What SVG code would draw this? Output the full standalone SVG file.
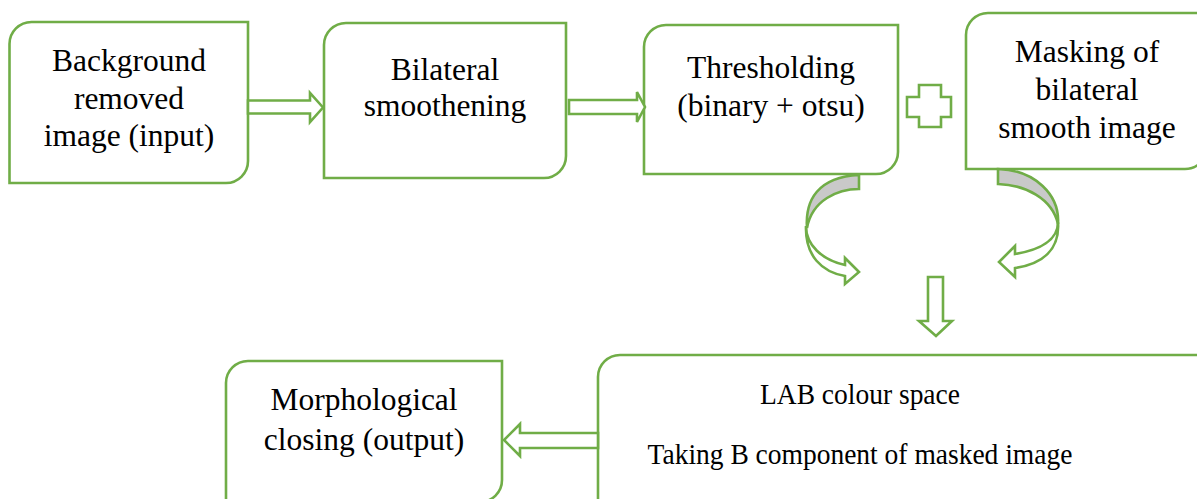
<svg xmlns="http://www.w3.org/2000/svg" width="1197" height="499" viewBox="0 0 1197 499">
<style>
.box{fill:#fff;stroke:#70AD47;stroke-width:2.6}
.arr{fill:#fff;stroke:#70AD47;stroke-width:2.6;stroke-linejoin:miter}
.back{fill:#C9C9C9;stroke:#70AD47;stroke-width:2.6;stroke-linejoin:miter}
.t{font-family:"Liberation Serif","Times New Roman",serif;font-size:31.5px;fill:#000;text-anchor:middle}
.t2{font-family:"Liberation Serif","Times New Roman",serif;font-size:27.5px;fill:#000;text-anchor:middle}
</style>
<rect width="1197" height="499" fill="#fff"/>
<g id="node-background">
<path class="box" d="M9.5,44 A22,22 0 0 1 31.5,22 H248 V161 A22,22 0 0 1 226,183 H9.5 Z"/>
<text class="t" x="129" y="71">Background</text>
<text class="t" x="129" y="109">removed</text>
<text class="t" x="129" y="146">image (input)</text>
</g>
<g id="node-bilateral">
<path class="box" d="M324,45 A22,22 0 0 1 346,23 H566 V156 A22,22 0 0 1 544,178 H324 Z"/>
<text class="t" x="445" y="80">Bilateral</text>
<text class="t" x="445" y="116">smoothening</text>
</g>
<g id="node-threshold">
<path class="box" d="M644,47 A22,22 0 0 1 666,25 H898 V152 A22,22 0 0 1 876,174 H644 Z"/>
<text class="t" x="771" y="78">Thresholding</text>
<text class="t" x="771" y="116">(binary + otsu)</text>
</g>
<g id="node-plus">
<path class="arr" d="M919,85 H941 V97 H951 V117 H941 V127 H919 V117 H907 V97 H919 Z"/>
</g>
<g id="node-masking">
<path class="box" d="M966,35 A22,22 0 0 1 988,13 H1207 V147 A22,22 0 0 1 1185,169 H966 Z"/>
<text class="t" x="1087" y="62">Masking of</text>
<text class="t" x="1087" y="100">bilateral</text>
<text class="t" x="1087" y="138">smooth image</text>
</g>
<g id="node-lab">
<path class="box" d="M598,377 A22,22 0 0 1 620,355 H1212 V503 A22,22 0 0 1 1190,525 H598 Z"/>
<text class="t2" x="860" y="0" transform="translate(0,403.5) scale(1,1.08)">LAB colour space</text>
<text class="t2" x="860" y="0" transform="translate(0,463.5) scale(1,1.08)">Taking B component of masked image</text>
</g>
<g id="node-morph">
<path class="box" d="M226,383 A22,22 0 0 1 248,361 H502 V480 A22,22 0 0 1 480,502 H226 Z"/>
<text class="t" x="364" y="410">Morphological</text>
<text class="t" x="364" y="450">closing (output)</text>
</g>
<g id="connectors">
<path class="arr" d="M248,100.5 H310 V93 L323,107.5 L310,122 V113.5 H248 Z"/>
<path class="arr" d="M569,100 H637 V92 L645,107 L637,122 V114 H569 Z"/>
<path class="arr" d="M598,433 H520 V424 L504,440 L520,456 V448 H598 Z"/>
<path class="arr" d="M928,277 H943 V321 H952 L936,336 L919,321 H928 Z"/>
<path class="back" d="M859,175 V189 C838,189 812,200 807,228 C805,200 818,177 859,175 Z"/>
<path class="arr" d="M806,226 C806,245 822,260 845,265 V258 L859,272 L845,284 V276 C822,272 805,256 806,226 Z"/>
<path class="back" d="M998,169 V184 C1025,185 1052,198 1058,224 C1060,195 1035,170 998,169 Z"/>
<path class="arr" d="M1058,222 C1058,240 1040,250 1015,254 V246 L999,262 L1015,277 V268 C1042,264 1060,250 1058,222 Z"/>
</g>
</svg>
